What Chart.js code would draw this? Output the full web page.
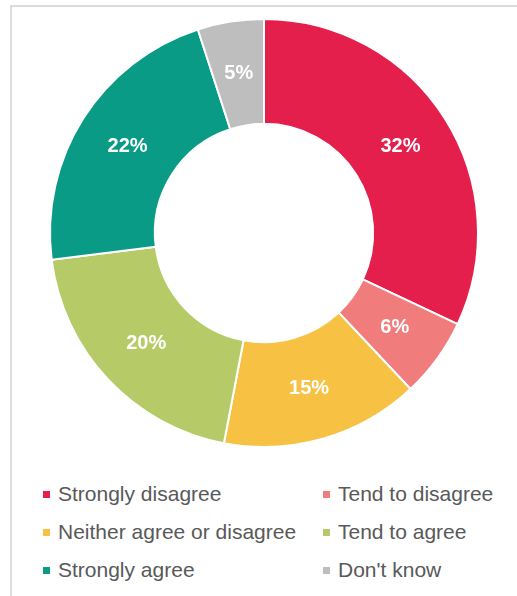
<!DOCTYPE html>
<html>
<head>
<meta charset="utf-8">
<script src="https://cdn.jsdelivr.net/npm/chart.js@4.4.1/dist/chart.umd.min.js"></script>
<style>
  body { margin: 0; background: #fff; width: 517px; height: 596px; overflow: hidden; position: relative; }
  #marco { position: absolute; left: 10px; top: 5px; width: 520px; height: 600px;
           border-left: 2px solid #dcdcdc; border-top: 2px solid #dcdcdc; }
  #contenedor { position: absolute; left: 0; top: 0; width: 517px; height: 460px; }
  #leyenda { position: absolute; left: 43px; top: 475px; display: grid;
             grid-template-columns: 280px 190px; font-family: "Liberation Sans", Arial, sans-serif;
             font-size: 21px; color: #595959; }
  .item { display: flex; align-items: center; height: 38px; white-space: nowrap; }
  .cuadro { width: 7px; height: 7px; margin-right: 8px; flex: none; }
</style>
</head>
<body>
<div id="marco"></div>
<div id="contenedor"><canvas id="dona"></canvas></div>
<div id="leyenda"></div>
<script>
const categorias = ['Strongly disagree', 'Tend to disagree', 'Neither agree or disagree', 'Tend to agree', 'Strongly agree', "Don't know"];
const porcentajes = [32, 6, 15, 20, 22, 5];
const colores = ['#e41f4c', '#f07c7c', '#f7c144', '#b6cb67', '#0a9b87', '#bebebe'];

// Etiquetas de porcentaje dentro de cada sector
const etiquetasPlugin = {
  id: 'etiquetas',
  afterDatasetsDraw(chart) {
    const ctx = chart.ctx;
    const meta = chart.getDatasetMeta(0);
    ctx.save();
    ctx.font = 'bold 20px "Liberation Sans", Arial, sans-serif';
    ctx.fillStyle = '#ffffff';
    ctx.textAlign = 'center';
    ctx.textBaseline = 'middle';
    meta.data.forEach((arc, i) => {
      const pos = arc.tooltipPosition();
      ctx.fillText(porcentajes[i] + '%', pos.x, pos.y);
    });
    ctx.restore();
  }
};

const ctx = document.getElementById('dona').getContext('2d');
new Chart(ctx, {
  type: 'doughnut',
  data: {
    labels: categorias,
    datasets: [{
      data: porcentajes,
      backgroundColor: colores,
      borderColor: '#ffffff',
      borderWidth: 2
    }]
  },
  options: {
    responsive: true,
    maintainAspectRatio: false,
    animation: false,
    cutout: '51%',
    layout: {
      padding: { left: 49, right: 38, top: 18, bottom: 12 }
    },
    plugins: {
      legend: { display: false },
      tooltip: { enabled: false }
    }
  },
  plugins: [etiquetasPlugin]
});

// Leyenda en dos columnas
const leyenda = document.getElementById('leyenda');
categorias.forEach((nombre, i) => {
  const item = document.createElement('div');
  item.className = 'item';
  const cuadro = document.createElement('span');
  cuadro.className = 'cuadro';
  cuadro.style.background = colores[i];
  const texto = document.createElement('span');
  texto.textContent = nombre;
  item.appendChild(cuadro);
  item.appendChild(texto);
  leyenda.appendChild(item);
});
</script>
</body>
</html>
